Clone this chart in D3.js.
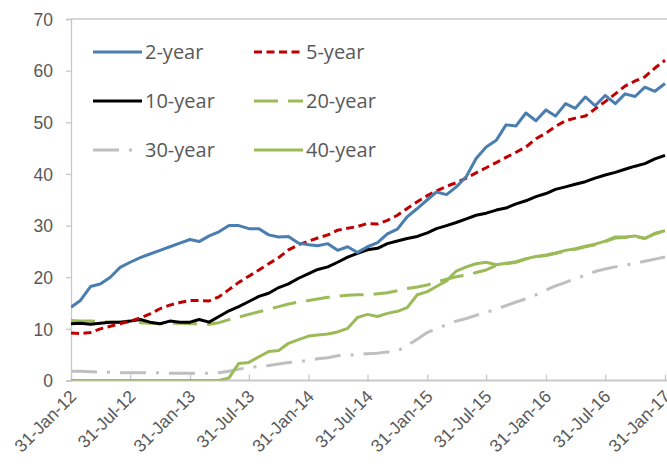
<!DOCTYPE html>
<html>
<head>
<meta charset="utf-8">
<script src="https://cdn.jsdelivr.net/npm/d3@7"></script>
<style>
  html, body { margin: 0; padding: 0; background: #fff; }
  svg { display: block; font-family: "Open Sans", "Noto Sans", sans-serif; }
</style>
</head>
<body>
<svg id="chart" width="667" height="466"></svg>
<script>
// Month-end observations, Jan 2012 through Jan 2017
const firstMonth = new Date(2012, 0, 31);
const monthCount = 61;

const twoYear = [14.2, 15.5, 18.2, 18.7, 20.0, 21.9, 22.9, 23.8, 24.5, 25.2,
  25.9, 26.6, 27.3, 26.9, 28.0, 28.8, 30.0, 30.0, 29.4, 29.4,
  28.2, 27.8, 27.9, 26.6, 26.3, 26.1, 26.5, 25.2, 25.9, 24.8,
  25.9, 26.7, 28.4, 29.3, 31.7, 33.3, 35.0, 36.5, 36.0, 37.5,
  39.5, 43.0, 45.2, 46.5, 49.5, 49.3, 51.8, 50.3, 52.4, 51.2,
  53.6, 52.7, 54.9, 53.2, 55.2, 53.6, 55.5, 55.0, 56.8, 56.0, 57.5];

const fiveYear = [9.2, 9.1, 9.3, 10.0, 10.5, 11.0, 11.5, 12.1, 12.9, 13.9,
  14.6, 15.1, 15.5, 15.5, 15.4, 16.2, 17.6, 19.0, 20.2, 21.4,
  22.6, 23.8, 25.3, 26.3, 27.0, 27.6, 28.2, 29.1, 29.5, 29.8,
  30.4, 30.3, 31.0, 32.0, 33.3, 34.6, 35.8, 36.7, 37.6, 38.3,
  39.2, 40.2, 41.2, 42.2, 43.2, 44.2, 45.2, 46.8, 47.9, 49.2,
  50.3, 50.8, 51.2, 52.6, 54.0, 55.5, 57.0, 58.0, 58.8, 60.5, 62.0];

const tenYear = [11.0, 11.1, 10.9, 11.1, 11.3, 11.3, 11.5, 11.8, 11.3, 11.0,
  11.5, 11.3, 11.3, 11.8, 11.3, 12.4, 13.5, 14.3, 15.3, 16.3,
  16.9, 18.0, 18.7, 19.8, 20.7, 21.5, 22.0, 22.9, 23.9, 24.6,
  25.3, 25.6, 26.5, 27.0, 27.5, 27.9, 28.6, 29.4, 30.0, 30.6,
  31.3, 32.0, 32.4, 33.0, 33.4, 34.2, 34.8, 35.6, 36.2, 37.0,
  37.5, 38.0, 38.5, 39.2, 39.8, 40.3, 40.9, 41.5, 42.0, 42.9, 43.6];

const twentyYear = [11.6, 11.5, 11.5, 11.4, 11.3, 11.3, 11.3, 11.2, 11.1, 11.0,
  11.1, 11.1, 11.0, 11.0, 10.9, 11.2, 11.8, 12.3, 12.8, 13.3,
  13.8, 14.3, 14.8, 15.2, 15.5, 15.8, 16.1, 16.3, 16.5, 16.6,
  16.6, 16.8, 17.0, 17.4, 17.8, 18.1, 18.5, 19.1, 19.6, 20.1,
  20.4, 20.9, 21.4, 22.3, 22.6, 22.9, 23.5, 23.9, 24.2, 24.6,
  25.1, 25.4, 25.9, 26.3, 26.9, 27.6, 27.7, 27.9, 27.5, 28.4, 28.9];

const thirtyYear = [1.8, 1.8, 1.7, 1.6, 1.6, 1.5, 1.5, 1.5, 1.5, 1.5,
  1.4, 1.4, 1.4, 1.4, 1.4, 1.5, 1.8, 2.2, 2.5, 2.7,
  2.9, 3.2, 3.5, 3.6, 4.0, 4.2, 4.4, 4.8, 4.9, 5.0,
  5.2, 5.3, 5.5, 5.7, 6.8, 8.0, 9.3, 10.0, 10.8, 11.5,
  12.0, 12.6, 13.2, 13.8, 14.5, 15.2, 15.8, 16.6, 17.5, 18.3,
  19.0, 19.7, 20.4, 21.1, 21.6, 22.0, 22.3, 22.7, 23.1, 23.5, 23.9];

const fortyYear = [0, 0, 0, 0, 0, 0, 0, 0, 0, 0,
  0, 0, 0, 0, 0, 0, 0.5, 3.3, 3.5, 4.6,
  5.6, 5.8, 7.2, 7.9, 8.6, 8.8, 9.0, 9.4, 10.1, 12.2,
  12.8, 12.4, 13.0, 13.4, 14.1, 16.6, 17.2, 18.2, 19.3, 21.2,
  22.0, 22.6, 22.9, 22.4, 22.7, 23.0, 23.6, 24.0, 24.3, 24.7,
  25.2, 25.5, 26.0, 26.4, 27.0, 27.8, 27.8, 28.0, 27.5, 28.5, 29.0];

const seriesNames = ["2-year", "5-year", "10-year", "20-year", "30-year", "40-year"];
const yTicks = [0, 10, 20, 30, 40, 50, 60, 70];
const xTickLabels = ["31-Jan-12", "31-Jul-12", "31-Jan-13", "31-Jul-13", "31-Jan-14",
  "31-Jul-14", "31-Jan-15", "31-Jul-15", "31-Jan-16", "31-Jul-16", "31-Jan-17"];

// ---- layout ----
const svg = d3.select("#chart");
const plotLeft = 71, plotRight = 665, plotTop = 19, plotBottom = 380.5, svgRight = 667;
const parseTick = d3.timeParse("%d-%b-%y");
const tickDates = xTickLabels.map(parseTick);

const dates = d3.range(monthCount).map(i => new Date(2012, i + 1, 0));

const x = d3.scaleTime()
  .domain([firstMonth, new Date(2017, 0, 31)])
  .range([plotLeft, plotRight]);
const y = d3.scaleLinear().domain([0, 70]).range([plotBottom, plotTop]);

const axisColor = "#C8C8C8";
const textColor = "#595959";

// plot frame (top edge)
svg.append("line").attr("x1", plotLeft).attr("x2", svgRight).attr("y1", plotTop).attr("y2", plotTop)
  .attr("stroke", axisColor).attr("stroke-width", 1.3);

// y axis
const yAxis = svg.append("g").attr("transform", `translate(${plotLeft},0)`)
  .call(d3.axisLeft(y).tickValues(yTicks).tickSize(5).tickPadding(13));
yAxis.select(".domain").attr("stroke", axisColor).attr("stroke-width", 1.3);
yAxis.selectAll(".tick line").attr("stroke", axisColor).attr("stroke-width", 1.3);
yAxis.selectAll(".tick text").attr("fill", textColor)
  .style("font-size", "17.5px").attr("dy", "0.36em");

// x axis
const xAxis = svg.append("g").attr("transform", `translate(0,${plotBottom})`)
  .call(d3.axisBottom(x).tickValues(tickDates).tickSize(-6)
    .tickFormat((d, i) => xTickLabels[i]));
xAxis.select(".domain").attr("stroke", axisColor).attr("stroke-width", 2)
  .attr("d", `M${plotLeft},0H${svgRight}`);
xAxis.selectAll(".tick line").attr("stroke", axisColor).attr("stroke-width", 1.3);
xAxis.selectAll(".tick text")
  .attr("fill", textColor)
  .style("font-size", "17.5px")
  .attr("text-anchor", "end")
  .attr("dy", null)
  .attr("y", 0)
  .attr("transform", "translate(6,17) rotate(-45)");

// ---- lines ----
svg.append("defs").append("clipPath").attr("id", "plot")
  .append("rect").attr("x", plotLeft).attr("y", plotTop - 5)
  .attr("width", svgRight - plotLeft).attr("height", plotBottom - plotTop + 5);

const styles = [
  { name: seriesNames[0], values: twoYear,    color: "#4A7EB0", dash: null },
  { name: seriesNames[1], values: fiveYear,   color: "#C00000", dash: "8,4.5" },
  { name: seriesNames[2], values: tenYear,    color: "#000000", dash: null },
  { name: seriesNames[3], values: twentyYear, color: "#9BBB59", dash: "24,10" },
  { name: seriesNames[4], values: thirtyYear, color: "#BFBFBF", dash: "26,10,3,10" },
  { name: seriesNames[5], values: fortyYear,  color: "#9BBB59", dash: null }
];

const line = d3.line().x((d, i) => x(dates[i])).y(d => y(d));

const drawOrder = [4, 5, 3, 2, 1, 0];
const g = svg.append("g").attr("clip-path", "url(#plot)");
drawOrder.forEach(k => {
  const s = styles[k];
  g.append("path")
    .datum(s.values)
    .attr("d", line)
    .attr("fill", "none")
    .attr("stroke", s.color)
    .attr("stroke-width", 3)
    .attr("stroke-linejoin", "round")
    .attr("stroke-dasharray", s.dash);
});

// ---- legend ----
const legendRows = [52, 101, 150];
const legendCols = [{ x0: 93, x1: 142, tx: 145 }, { x0: 254, x1: 303, tx: 306 }];
styles.forEach((s, i) => {
  const row = legendRows[Math.floor(i / 2)];
  const col = legendCols[i % 2];
  svg.append("line")
    .attr("x1", col.x0).attr("x2", col.x1).attr("y1", row).attr("y2", row)
    .attr("stroke", s.color).attr("stroke-width", 3)
    .attr("stroke-dasharray", s.dash);
  svg.append("text")
    .attr("x", col.tx).attr("y", row).attr("dy", "0.36em")
    .attr("fill", textColor).style("font-size", "20px")
    .text(s.name);
});
</script>
</body>
</html>
